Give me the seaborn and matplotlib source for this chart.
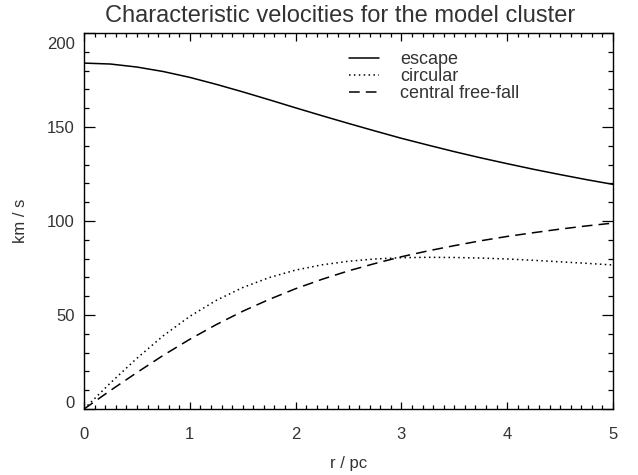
import numpy as np
import pandas as pd
import matplotlib
matplotlib.use("Agg")
import matplotlib.pyplot as plt
from matplotlib.ticker import MultipleLocator
from matplotlib.transforms import ScaledTranslation
import seaborn as sns

# velocities (km/s) at r = 0, 0.25, ..., 5 pc
r_pc = [0.0, 0.25, 0.5, 0.75, 1.0, 1.25, 1.5, 1.75, 2.0, 2.25, 2.5,
        2.75, 3.0, 3.25, 3.5, 3.75, 4.0, 4.25, 4.5, 4.75, 5.0]
v_escape = [184.0, 183.5, 181.9, 179.5, 176.4, 172.7, 168.7, 164.5, 160.2, 156.0, 151.9,
            147.9, 144.0, 140.4, 136.9, 133.6, 130.5, 127.5, 124.7, 122.0, 119.5]
v_circular = [0.0, 13.9, 27.0, 39.0, 49.3, 57.8, 64.6, 69.9, 73.9, 76.7, 78.6,
              79.8, 80.5, 80.7, 80.6, 80.3, 79.8, 79.1, 78.3, 77.5, 76.6]
v_freefall = [0.0, 9.9, 19.4, 28.6, 37.1, 44.9, 52.0, 58.3, 64.0, 69.0, 73.5,
              77.4, 81.0, 84.1, 86.9, 89.5, 91.8, 93.8, 95.7, 97.4, 98.9]
curve_names = ["escape", "circular", "central free-fall"]

df = pd.DataFrame({
    "r": r_pc * 3,
    "v": v_escape + v_circular + v_freefall,
    "curve": np.repeat(curve_names, len(r_pc)),
})

sns.set_theme(style="white")
plt.rcParams["font.family"] = ["Liberation Sans", "DejaVu Sans"]
txt = "#333333"

fig = plt.figure(figsize=(6.38, 4.75), dpi=100)
ax = fig.add_axes([0.1317, 0.1389, 0.8291, 0.7916])

sns.lineplot(data=df, x="r", y="v", hue="curve", style="curve",
             hue_order=curve_names, style_order=curve_names,
             palette=["black"] * 3,
             dashes={"escape": "", "circular": (1, 2.2), "central free-fall": (7, 4)},
             estimator=None, linewidth=1.1, legend=False, ax=ax)

ax.set_xlim(0, 5)
ax.set_ylim(0, 200)
ax.xaxis.set_major_locator(MultipleLocator(1))
ax.xaxis.set_minor_locator(MultipleLocator(0.1))
ax.yaxis.set_major_locator(MultipleLocator(50))
ax.yaxis.set_minor_locator(MultipleLocator(10))

ax.tick_params(axis="both", which="both", direction="in",
               bottom=True, left=True, top=True, right=True,
               colors="black", labelcolor=txt, labelsize=12, width=0.9)
ax.tick_params(axis="x", which="major", length=5.4, pad=13)
ax.tick_params(axis="x", which="minor", length=2.7)
ax.tick_params(axis="y", which="major", length=7.6, pad=6.5)
ax.tick_params(axis="y", which="minor", length=3.8)
for s in ax.spines.values():
    s.set_color("black")
    s.set_linewidth(1.0)

ax.set_xlabel("r / pc", fontsize=12, color=txt, labelpad=10)
ax.set_ylabel("km / s", fontsize=12, color=txt, labelpad=14)
ax.set_title("Characteristic velocities for the model cluster", fontsize=17,
             color=txt, pad=8, x=0.485)

leg = ax.legend(ax.lines[:3], curve_names, loc="upper left",
                bbox_to_anchor=(0.501, 0.952), frameon=False, fontsize=13,
                handlelength=1.67, handletextpad=1.15, labelspacing=0.0,
                borderpad=0, borderaxespad=0)
for t in leg.get_texts():
    t.set_color(txt)

# the end labels of the y axis sit a little inside the frame, as in the original
fig.canvas.draw()
for tick in ax.yaxis.get_major_ticks():
    if abs(tick.get_loc() - 200) < 1e-6:
        tick.label1.set_transform(tick.label1.get_transform()
                                  + ScaledTranslation(0, -7 / 72, fig.dpi_scale_trans))
    elif abs(tick.get_loc()) < 1e-6:
        tick.label1.set_transform(tick.label1.get_transform()
                                  + ScaledTranslation(0, 5 / 72, fig.dpi_scale_trans))

fig.savefig("out.png", dpi=100)
